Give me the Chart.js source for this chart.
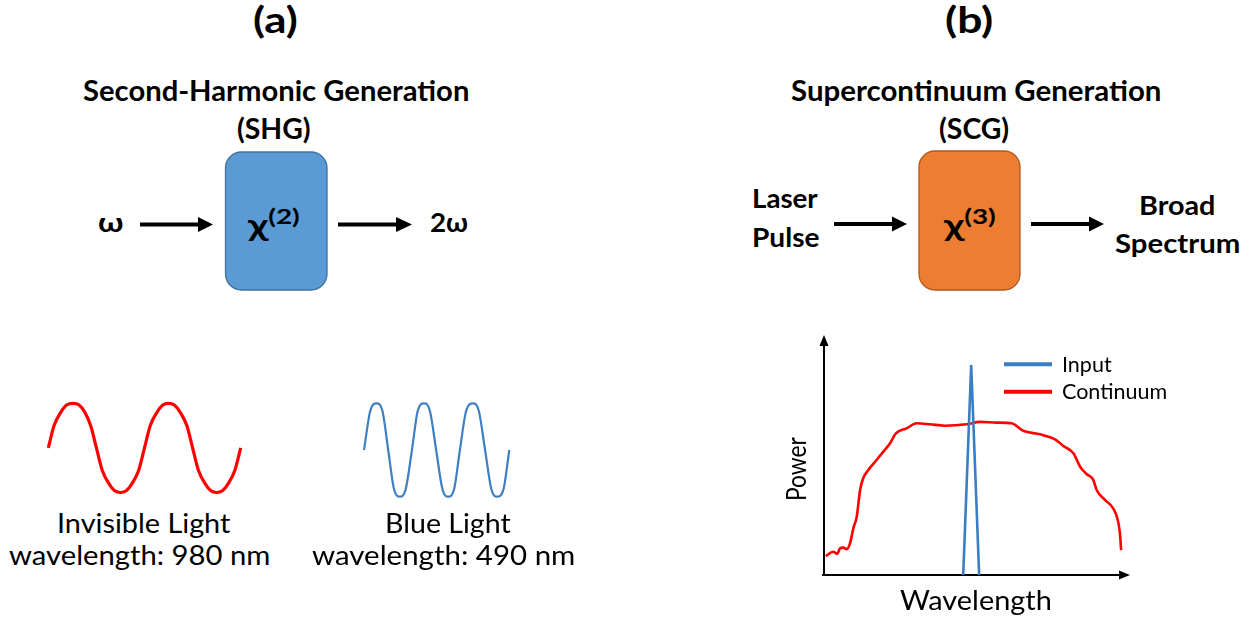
<!DOCTYPE html>
<html>
<head>
<meta charset="utf-8">
<title>SHG and SCG</title>
<script src="https://cdn.jsdelivr.net/npm/chart.js@4.4.1/dist/chart.umd.min.js"></script>
<style>
  html, body { margin: 0; padding: 0; background: #fff; }
  body { width: 1251px; height: 621px; position: relative; overflow: hidden;
         font-family: Lato, "Open Sans", "DejaVu Sans", sans-serif; color: #000; }
  canvas { position: absolute; }
  svg { position: absolute; left: 0; top: 0; }
  .t { position: absolute; left: 0; top: 0; white-space: nowrap; line-height: 1; transform-origin: 0 0; }
  .b { font-weight: 700; }
  .t sup { font-size: 0.68em; vertical-align: 0.58em; line-height: 0; }
  .mk { display: inline-block; width: 0; height: 0; }
</style>
</head>
<body>

<!-- process boxes and flow arrows -->
<svg width="1251" height="621">
  <rect x="225.5" y="152" width="101.5" height="138" rx="16" ry="16" fill="#5b9bd5" stroke="#41719c" stroke-width="1.3"/>
  <rect x="919" y="151" width="101" height="139" rx="16" ry="16" fill="#ed7d31" stroke="#ae5a21" stroke-width="1.3"/>
  <g fill="#000" stroke="none">
    <rect x="140" y="222.5" width="60" height="4"/>
    <polygon points="198,217 213,224.5 198,232"/>
    <rect x="338" y="222.5" width="60" height="4"/>
    <polygon points="396,217 412,224.5 396,232"/>
    <rect x="834" y="222" width="60" height="4"/>
    <polygon points="892,216.5 907,224 892,231.5"/>
    <rect x="1031" y="222" width="60" height="4"/>
    <polygon points="1089,216.5 1104,224 1089,231.5"/>
  </g>
</svg>

<canvas id="redWave" width="230" height="115" style="left:30px;top:390px"></canvas>
<canvas id="blueWave" width="180" height="120" style="left:350px;top:390px"></canvas>
<canvas id="spectrum" width="420" height="262" style="left:800px;top:325px"></canvas>

<!-- panel (a) -->
<div class="t b" style="font-size:37px" data-cx="275.5" data-base="33.3" data-w="45">(a)</div>
<div class="t b" style="font-size:28px" data-cx="275.5" data-base="100.5" data-w="386">Second-Harmonic Generation</div>
<div class="t b" style="font-size:28px" data-cx="274" data-base="139" data-w="74">(SHG)</div>
<div class="t b" style="font-size:27px" data-cx="110.8" data-base="231.7" data-w="25">ω</div>
<div class="t b" style="font-size:30px" data-cx="274" data-base="236" data-w="52">χ<sup>(2)</sup></div>
<div class="t b" style="font-size:27px" data-cx="449" data-base="231.7" data-w="38">2ω</div>
<div class="t" style="font-size:27px" data-cx="143.3" data-base="533.3" data-w="173">Invisible Light</div>
<div class="t" style="font-size:27px" data-cx="139" data-base="565" data-w="261">wavelength: 980 nm</div>
<div class="t" style="font-size:27px" data-cx="448" data-base="533.3" data-w="126">Blue Light</div>
<div class="t" style="font-size:27px" data-cx="443.3" data-base="565" data-w="263">wavelength: 490 nm</div>

<!-- panel (b) -->
<div class="t b" style="font-size:37px" data-cx="969" data-base="33.3" data-w="48">(b)</div>
<div class="t b" style="font-size:28px" data-cx="975.5" data-base="100.5" data-w="370">Supercontinuum Generation</div>
<div class="t b" style="font-size:28px" data-cx="974" data-base="139" data-w="70">(SCG)</div>
<div class="t b" style="font-size:27px" data-x="751.7" data-base="208.3" data-w="65.6">Laser</div>
<div class="t b" style="font-size:27px" data-x="751.7" data-base="246.7" data-w="67.6">Pulse</div>
<div class="t b" style="font-size:30px" data-cx="970" data-base="236" data-w="52">χ<sup>(3)</sup></div>
<div class="t b" style="font-size:27px" data-cx="1177.7" data-base="215" data-w="76.7">Broad</div>
<div class="t b" style="font-size:27px" data-cx="1177.5" data-base="253.3" data-w="125">Spectrum</div>
<div class="t" style="font-size:27px" data-cx="975.5" data-base="610" data-w="152">Wavelength</div>
<div class="t" style="font-size:27px" data-rot="1" data-bx="806" data-cy="469" data-w="64">Power</div>

<script>
// ---- sine sketches: position in cycles, amplitude in units of the peak ----
const redWaveX  = [0, 0.06, 0.13, 0.19, 0.26, 0.32, 0.38, 0.44, 0.5, 0.56, 0.63, 0.69, 0.75, 0.81, 0.87, 0.94,
                   1.0, 1.06, 1.13, 1.19, 1.25, 1.31, 1.37, 1.44, 1.5, 1.56, 1.63, 1.69, 1.75, 1.81, 1.87, 1.94, 2.0];
const redWaveY  = [0, 0.5, 0.8, 0.96, 1, 0.96, 0.8, 0.5, 0, -0.5, -0.8, -0.96, -1, -0.96, -0.8, -0.5,
                   0, 0.5, 0.8, 0.96, 1, 0.96, 0.8, 0.5, 0, -0.5, -0.8, -0.96, -1, -0.96, -0.8, -0.5, 0];
const blueWaveX = [0, 0.13, 0.26, 0.38, 0.5, 0.62, 0.74, 0.86, 0.99, 1.11, 1.24, 1.36, 1.49, 1.62, 1.74, 1.86, 1.98, 2.11, 2.25, 2.37, 2.5, 2.63, 2.75, 2.88, 3.0];
const blueWaveY = [0, 0.84, 1, 0.84, 0, -0.84, -1, -0.84, 0, 0.84, 1, 0.84, 0, -0.84, -1, -0.84, 0, 0.84, 1, 0.84, 0, -0.84, -1, -0.84, 0];

// ---- spectrum sketch: wavelength and power on a 0-100 relative scale ----
const seriesNames = ['Input', 'Continuum'];
const inputWavelength = [45.5, 48.1, 50.7];
const inputPower      = [0, 87.5, 0];
const continuumWavelength = [0.6, 3.0, 4.3, 5.2, 6.3, 7.4, 8.5, 9.6, 10.7, 11.8, 12.8, 14.5, 16.7, 19.4, 21.6, 23.5, 27.0, 30.3, 34.6, 39.5, 46.6, 51.0, 56.4, 61.3, 65.1, 70.6, 75.5, 78.2, 81.5, 83.7, 85.8, 88.0, 89.1, 91.8, 94.5, 96.0, 96.7, 97.1];
const continuumPower      = [7.9, 9.7, 8.8, 11.0, 11.4, 10.8, 13.2, 19.5, 24.3, 35.4, 40.3, 43.8, 47.2, 51.4, 54.9, 59.0, 61.1, 63.2, 62.8, 62.2, 62.8, 63.8, 63.5, 63.2, 60.1, 58.6, 56.5, 53.8, 50.7, 45.1, 42.1, 39.6, 35.4, 31.3, 27.8, 22.9, 17.4, 10.4];
const axisMax = 100;

const pairs = (xs, ys) => xs.map((x, i) => ({ x, y: ys[i] }));

const quiet = {
  responsive: false,
  animation: false,
  events: [],
  plugins: { legend: { display: false }, tooltip: { enabled: false } }
};

function waveChart(id, xs, ys, color, width, xMax, padding) {
  return new Chart(document.getElementById(id), {
    type: 'line',
    data: { datasets: [{ data: pairs(xs, ys), borderColor: color, borderWidth: width,
                         pointRadius: 0, cubicInterpolationMode: 'monotone', clip: false, fill: false }] },
    options: Object.assign({}, quiet, {
      layout: { padding },
      scales: {
        x: { type: 'linear', min: 0, max: xMax, display: false },
        y: { type: 'linear', min: -1, max: 1, display: false }
      }
    })
  });
}

waveChart('redWave', redWaveX, redWaveY, '#ff0000', 3.2, 2,
          { left: 18.3, right: 19.3, top: 13.3, bottom: 12.5 });
waveChart('blueWave', blueWaveX, blueWaveY, '#3f7fc2', 2.2, 3,
          { left: 14, right: 20.7, top: 13.3, bottom: 13.3 });

// axes drawn as arrows from the origin to the scale maxima
const axisArrows = {
  id: 'axisArrows',
  beforeDatasetsDraw(chart) {
    const { ctx } = chart;
    const sx = chart.scales.x, sy = chart.scales.y;
    const x0 = sx.getPixelForValue(0), y0 = sy.getPixelForValue(0);
    const xEnd = sx.getPixelForValue(sx.max), yEnd = sy.getPixelForValue(sy.max);
    ctx.save();
    ctx.strokeStyle = '#000'; ctx.fillStyle = '#000'; ctx.lineWidth = 2;
    ctx.beginPath();
    ctx.moveTo(x0, y0 + 1); ctx.lineTo(x0, yEnd + 9);
    ctx.moveTo(x0 - 2, y0); ctx.lineTo(xEnd - 9, y0);
    ctx.stroke();
    ctx.beginPath();
    ctx.moveTo(x0, yEnd); ctx.lineTo(x0 - 4.5, yEnd + 11); ctx.lineTo(x0 + 4.5, yEnd + 11); ctx.closePath();
    ctx.moveTo(xEnd, y0); ctx.lineTo(xEnd - 11, y0 - 4.5); ctx.lineTo(xEnd - 11, y0 + 4.5); ctx.closePath();
    ctx.fill();
    ctx.restore();
  }
};

// legend: a short thick line swatch per series with its name beside it
const lineLegend = {
  id: 'lineLegend',
  afterDatasetsDraw(chart, args, o) {
    const { ctx } = chart;
    chart.data.datasets.forEach((ds, i) => {
      const y = o.top + i * o.rowGap;
      ctx.save();
      ctx.strokeStyle = ds.borderColor; ctx.lineWidth = o.lineWidth; ctx.lineCap = 'butt';
      ctx.beginPath(); ctx.moveTo(o.left, y); ctx.lineTo(o.left + o.lineLength, y); ctx.stroke();
      ctx.fillStyle = '#000'; ctx.font = o.font; ctx.textBaseline = 'alphabetic';
      ctx.fillText(ds.label, o.textLeft, y + o.textDrop);
      ctx.restore();
    });
  }
};

new Chart(document.getElementById('spectrum'), {
  type: 'line',
  data: {
    datasets: [
      { label: seriesNames[0], data: pairs(inputWavelength, inputPower), borderColor: '#3a7ec3',
        borderWidth: 2.6, pointRadius: 0, tension: 0, clip: false, fill: false },
      { label: seriesNames[1], data: pairs(continuumWavelength, continuumPower), borderColor: '#ff0000',
        borderWidth: 2.6, pointRadius: 0, cubicInterpolationMode: 'monotone', clip: false, fill: false }
    ]
  },
  options: Object.assign({}, quiet, {
    layout: { padding: { left: 24, right: 90, top: 10, bottom: 12 } },
    scales: {
      x: { type: 'linear', min: 0, max: axisMax, display: false },
      y: { type: 'linear', min: 0, max: axisMax, display: false }
    },
    plugins: Object.assign({}, quiet.plugins, {
      lineLegend: { left: 204, lineLength: 48, top: 39.3, rowGap: 27.4, lineWidth: 4,
                    textLeft: 262, textDrop: 7.3, font: '21.5px Lato, "Open Sans", sans-serif' }
    })
  }),
  plugins: [axisArrows, lineLegend]
});

// place each label by its baseline and stretch it to its measured span
function placeLabels() {
  document.querySelectorAll('.t').forEach(el => {
    const mk = document.createElement('span');
    mk.className = 'mk';
    el.appendChild(mk);
    const w = el.offsetWidth;
    const base = mk.offsetTop;
    const tw = +el.dataset.w || w;
    const s = tw / w;
    if (el.dataset.rot) {
      const px = +el.dataset.bx - base;
      const py = +el.dataset.cy + tw / 2;
      el.style.transform = `translate(${px}px, ${py}px) rotate(-90deg) scaleX(${s})`;
      return;
    }
    const left = el.dataset.cx !== undefined ? +el.dataset.cx - tw / 2 : +el.dataset.x;
    el.style.left = left + 'px';
    el.style.top = (+el.dataset.base - base) + 'px';
    el.style.transform = `scaleX(${s})`;
  });
}
if (document.fonts && document.fonts.ready) document.fonts.ready.then(placeLabels); else placeLabels();
</script>
</body>
</html>
